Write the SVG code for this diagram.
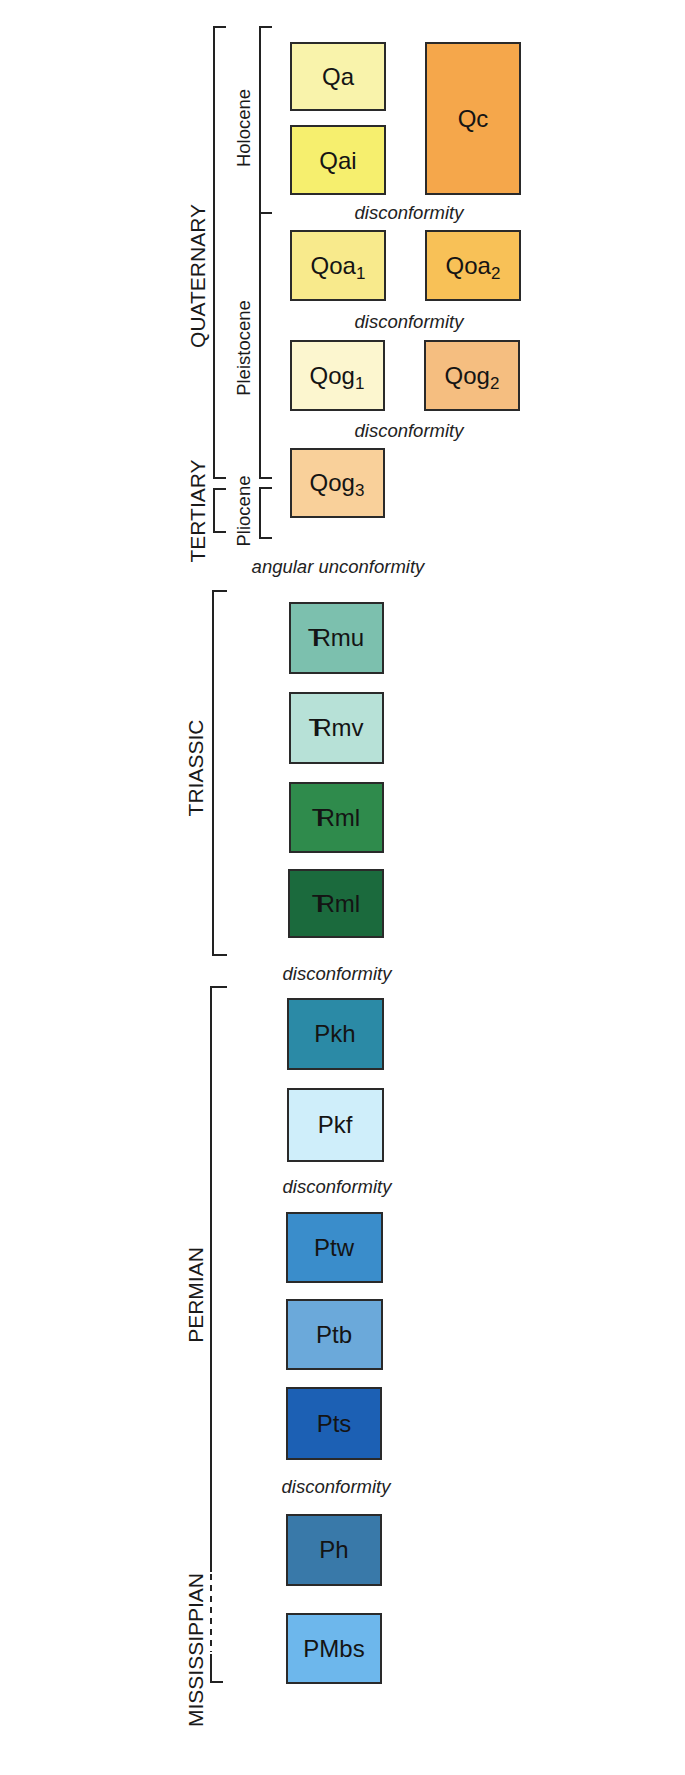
<svg xmlns="http://www.w3.org/2000/svg" width="685" height="1775" viewBox="0 0 685 1775">
<style>
.box{stroke:#2a2a2a;stroke-width:2}
.lbl{font-family:"Liberation Sans",Arial,sans-serif;font-size:24px;fill:#141414;text-anchor:middle}
.sub{font-size:17px}
.unc{font-family:"Liberation Sans",Arial,sans-serif;font-size:18.5px;font-style:italic;fill:#222;text-anchor:middle}
.per{font-family:"Liberation Sans",Arial,sans-serif;font-size:21px;fill:#1a1a1a;text-anchor:middle}
.ep{font-family:"Liberation Sans",Arial,sans-serif;font-size:18.5px;fill:#1a1a1a;text-anchor:middle}
.br{fill:none;stroke:#222;stroke-width:2}
</style>
<rect width="685" height="1775" fill="#ffffff"/>
<g id="connectors">
<path class="br" d="M226,27 H214 V478 H226"/>
<path class="br" d="M272,27 H260 V478 H272 M260,213 H272"/>
<path class="br" d="M226,489 H214 V532 H226"/>
<path class="br" d="M272,488 H260 V538 H272"/>
<path class="br" d="M227,591 H213 V955 H227"/>
<path class="br" d="M227,987 H211 V1572"/>
<path class="br" d="M211,1574 V1652" stroke-dasharray="6,5"/>
<path class="br" d="M211,1654 V1682 H223"/>
</g>
<g id="labels">
<text class="per" transform="translate(205,276) rotate(-90)">QUATERNARY</text>
<text class="per" transform="translate(205,511) rotate(-90)">TERTIARY</text>
<text class="per" transform="translate(203,768) rotate(-90)">TRIASSIC</text>
<text class="per" transform="translate(203,1295) rotate(-90)">PERMIAN</text>
<text class="per" transform="translate(203,1650) rotate(-90)">MISSISSIPPIAN</text>
<text class="ep" transform="translate(250,128) rotate(-90)">Holocene</text>
<text class="ep" transform="translate(250,348) rotate(-90)">Pleistocene</text>
<text class="ep" transform="translate(250,511) rotate(-90)">Pliocene</text>
<text class="unc" x="409" y="219">disconformity</text>
<text class="unc" x="409" y="328">disconformity</text>
<text class="unc" x="409" y="437">disconformity</text>
<text class="unc" x="338" y="573">angular unconformity</text>
<text class="unc" x="337" y="980">disconformity</text>
<text class="unc" x="337" y="1193">disconformity</text>
<text class="unc" x="336" y="1493">disconformity</text>
</g>
<g id="Qa"><rect class="box" x="291" y="43" width="94" height="67" fill="#f9f3ab"/><text class="lbl" x="338" y="85">Qa</text></g>
<g id="Qai"><rect class="box" x="291" y="126" width="94" height="68" fill="#f6ef6e"/><text class="lbl" x="338" y="169">Qai</text></g>
<g id="Qc"><rect class="box" x="426" y="43" width="94" height="151" fill="#f5a74b"/><text class="lbl" x="473" y="127">Qc</text></g>
<g id="Qoa1"><rect class="box" x="291" y="231" width="94" height="69" fill="#f8ea8c"/><text class="lbl" x="338" y="274">Qoa<tspan class="sub" dy="5">1</tspan></text></g>
<g id="Qoa2"><rect class="box" x="426" y="231" width="94" height="69" fill="#f8c157"/><text class="lbl" x="473" y="274">Qoa<tspan class="sub" dy="5">2</tspan></text></g>
<g id="Qog1"><rect class="box" x="291" y="341" width="93" height="69" fill="#fcf6cf"/><text class="lbl" x="337" y="384">Qog<tspan class="sub" dy="5">1</tspan></text></g>
<g id="Qog2"><rect class="box" x="425" y="341" width="94" height="69" fill="#f5be80"/><text class="lbl" x="472" y="384">Qog<tspan class="sub" dy="5">2</tspan></text></g>
<g id="Qog3"><rect class="box" x="291" y="449" width="93" height="68" fill="#f9d09a"/><text class="lbl" x="337" y="491">Qog<tspan class="sub" dy="5">3</tspan></text></g>
<g id="TRmu"><rect class="box" x="290" y="603" width="93" height="70" fill="#7cc0ae"/><text class="lbl" x="336" y="646">T<tspan dx="-9">R</tspan>mu</text></g>
<g id="TRmv"><rect class="box" x="290" y="693" width="93" height="70" fill="#b7e1d7"/><text class="lbl" x="336" y="736">T<tspan dx="-9">R</tspan>mv</text></g>
<g id="TRml"><rect class="box" x="290" y="783" width="93" height="69" fill="#2f8b4c"/><text class="lbl" x="336" y="826">T<tspan dx="-9">R</tspan>ml</text></g>
<g id="TRml2"><rect class="box" x="289" y="870" width="94" height="67" fill="#1b6a3d"/><text class="lbl" x="336" y="912">T<tspan dx="-9">R</tspan>ml</text></g>
<g id="Pkh"><rect class="box" x="288" y="999" width="95" height="70" fill="#2b8aa6"/><text class="lbl" x="335" y="1042">Pkh</text></g>
<g id="Pkf"><rect class="box" x="288" y="1089" width="95" height="72" fill="#cfeefa"/><text class="lbl" x="335" y="1133">Pkf</text></g>
<g id="Ptw"><rect class="box" x="287" y="1213" width="95" height="69" fill="#3a8dcb"/><text class="lbl" x="334" y="1256">Ptw</text></g>
<g id="Ptb"><rect class="box" x="287" y="1300" width="95" height="69" fill="#6ba9da"/><text class="lbl" x="334" y="1343">Ptb</text></g>
<g id="Pts"><rect class="box" x="287" y="1388" width="94" height="71" fill="#1c60b4"/><text class="lbl" x="334" y="1432">Pts</text></g>
<g id="Ph"><rect class="box" x="287" y="1515" width="94" height="70" fill="#3979a9"/><text class="lbl" x="334" y="1558">Ph</text></g>
<g id="PMbs"><rect class="box" x="287" y="1614" width="94" height="69" fill="#6db7ec"/><text class="lbl" x="334" y="1657">PMbs</text></g>
</svg>
